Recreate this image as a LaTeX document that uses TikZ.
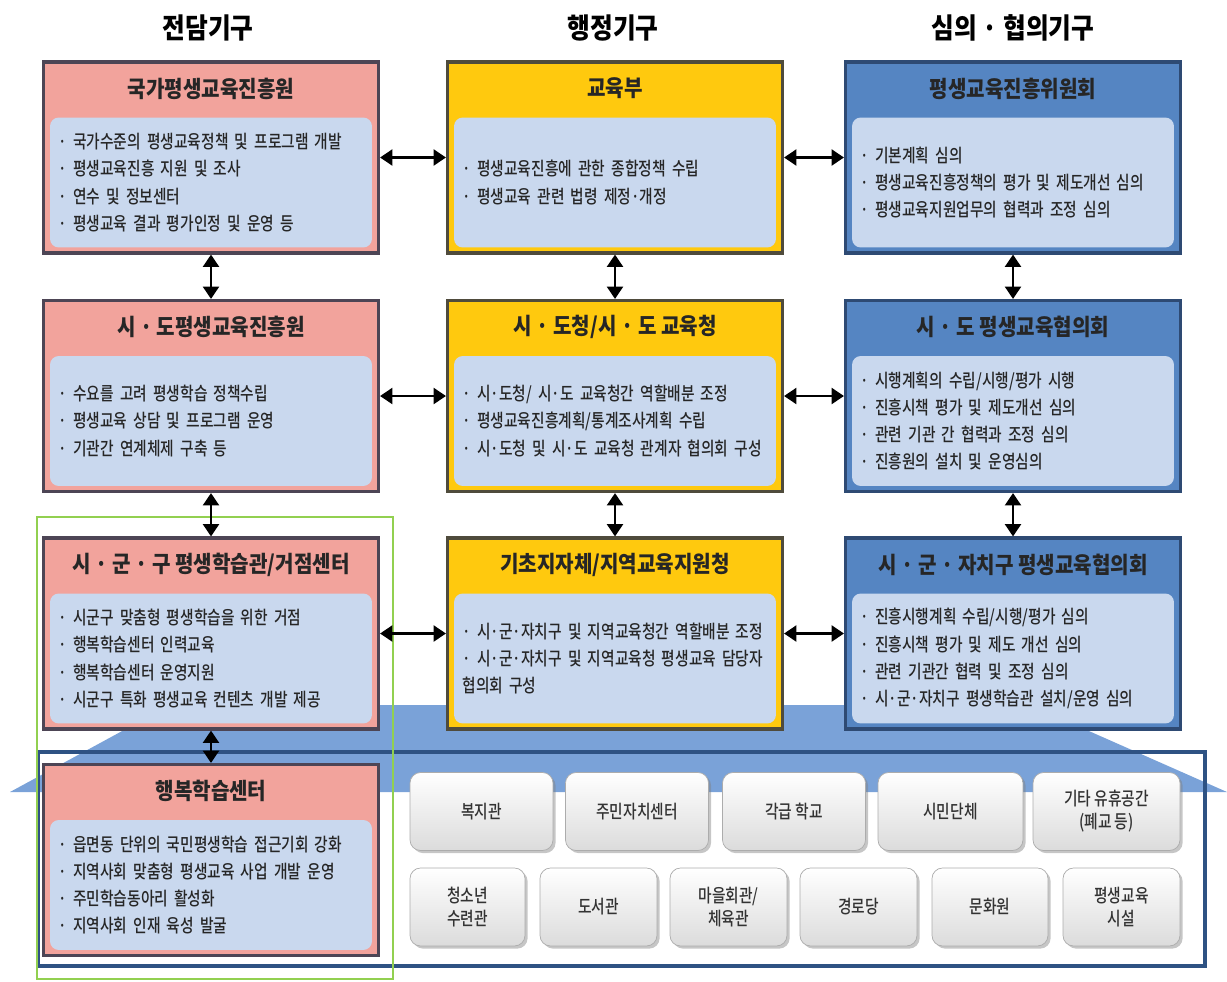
\documentclass[tikz,border=0pt]{standalone}
\usepackage{fontspec}
\setmainfont[FakeStretch=0.8]{Noto Sans CJK KR}
\newfontfamily\headfont[FakeStretch=0.88]{Noto Sans CJK KR}
\newfontfamily\bodyfont[FakeStretch=0.8]{Noto Sans CJK KR Medium}
\usetikzlibrary{arrows.meta,shadows}

\definecolor{pinkhead}{HTML}{F2A39C}
\definecolor{pinkframe}{HTML}{4D4555}
\definecolor{goldhead}{HTML}{FFC90E}
\definecolor{goldframe}{HTML}{4F4B3C}
\definecolor{bluehead}{HTML}{5585C2}
\definecolor{blueframe}{HTML}{2E4A73}
\definecolor{bodyblue}{HTML}{C9D8EE}
\definecolor{greenline}{HTML}{92D050}
\definecolor{bandblue}{HTML}{7AA2D8}
\definecolor{bottomframe}{HTML}{2E5283}

\begin{document}
\begin{tikzpicture}
[x=0.02cm,y=-0.02cm,
 framedecorate/.style={draw=#1frame,fill=#1head,line width=1.8pt,minimum width=6.7cm,minimum height=3.82cm,inner sep=0pt},
 titledecorate/.style={font=\headfont\fontsize{13}{15}\selectfont\bfseries,text=black!85,inner sep=0pt},
 bodydecorate/.style={fill=bodyblue,rounded corners=5pt,minimum width=6.44cm,minimum height=2.6cm,text width=6.1cm,inner xsep=0.17cm,inner ysep=0pt,align=left,font=\bodyfont\fontsize{10.5}{15.5}\selectfont,text=black!85},
 placedecorate/.style={draw=gray!65,top color=white,bottom color=gray!28,rounded corners=6pt,minimum height=1.56cm,align=center,inner sep=1pt,font=\bodyfont\fontsize{10.5}{13}\selectfont,text=black!80,drop shadow={shadow xshift=1.5pt,shadow yshift=-1.5pt,opacity=0.45}},
 headerdecorate/.style={font=\headfont\fontsize{16}{19}\selectfont\bfseries,inner sep=0pt},
 linedecorate/.style={{Triangle[length=7pt,width=9pt]}-{Triangle[length=7pt,width=9pt]},line width=1.5pt}]
\useasboundingbox (0,0) rectangle (1227,981);
%% column headers
\node (hdleft) at (208,28) [headerdecorate] {전담기구};
\node (hdmid) at (613,28) [headerdecorate] {행정기구};
\node (hdright) at (1013,28) [headerdecorate] {심의 · 협의기구};
%% background band and frames
\fill[bandblue] (170,705) -- (1030,705) -- (1227,792) -- (10,792) -- cycle;
\draw[bottomframe,line width=2pt] (38,752) rectangle (1205,966);
\draw[greenline,line width=1.2pt] (37,517) rectangle (393,979);
%% organisation boxes
\foreach \nodename/\x/\y/\hue/\title/\body in {
  nile/211/157.5/pink/{국가평생교육진흥원}/{· 국가수준의 평생교육정책 및 프로그램 개발\\ · 평생교육진흥 지원 및 조사\\ · 연수 및 정보센터\\ · 평생교육 결과 평가인정 및 운영 등},
  moe/615/157.5/gold/{교육부}/{· 평생교육진흥에 관한 종합정책 수립\\ · 평생교육 관련 법령 제정·개정},
  lcom/1013/157.5/blue/{평생교육진흥위원회}/{· 기본계획 심의\\ · 평생교육진흥정책의 평가 및 제도개선 심의\\ · 평생교육지원업무의 협력과 조정 심의},
  sidoinst/211/396/pink/{시 · 도평생교육진흥원}/{· 수요를 고려 평생학습 정책수립\\ · 평생교육 상담 및 프로그램 운영\\ · 기관간 연계체제 구축 등},
  sidooffice/615/396/gold/{시 · 도청/시 · 도 교육청}/{· 시·도청/ 시·도 교육청간 역할배분 조정\\ · 평생교육진흥계획/통계조사계획 수립\\ · 시·도청 및 시·도 교육청 관계자 협의회 구성},
  sidocouncil/1013/396/blue/{시 · 도 평생교육협의회}/{· 시행계획의 수립/시행/평가 시행\\ · 진흥시책 평가 및 제도개선 심의\\ · 관련 기관 간 협력과 조정 심의\\ · 진흥원의 설치 및 운영심의},
  sggcenter/211/633.5/pink/{시 · 군 · 구 평생학습관/거점센터}/{· 시군구 맞춤형 평생학습을 위한 거점\\ · 행복학습센터 인력교육\\ · 행복학습센터 운영지원\\ · 시군구 특화 평생교육 컨텐츠 개발 제공},
  localgov/615/633.5/gold/{기초지자체/지역교육지원청}/{· 시·군·자치구 및 지역교육청간 역할배분 조정\\ · 시·군·자치구 및 지역교육청 평생교육 담당자\\ 협의회 구성},
  sggcouncil/1013/633.5/blue/{시 · 군 · 자치구 평생교육협의회}/{· 진흥시행계획 수립/시행/평가 심의\\ · 진흥시책 평가 및 제도 개선 심의\\ · 관련 기관간 협력 및 조정 심의\\ · 시·군·자치구 평생학습관 설치/운영 심의},
  happy/211/860/pink/{행복학습센터}/{· 읍면동 단위의 국민평생학습 접근기회 강화\\ · 지역사회 맞춤형 평생교육 사업 개발 운영\\ · 주민학습동아리 활성화\\ · 지역사회 인재 육성 발굴}}
{
  \node (\nodename) at (\x,\y) [framedecorate=\hue] {};
  \node (\nodename-t) at ([yshift=-0.56cm]\nodename.north) [titledecorate] {\title};
  \node (\nodename-b) at ([yshift=-0.5cm]\nodename.center) [bodydecorate] {\body};
}
%% places
\foreach \nodename/\x/\y/\w/\label in {
  welfare/481.5/811.5/2.86/복지관, residents/637/811.5/2.86/주민자치센터,
  school/794/811.5/2.86/각급 학교, civic/950.5/811.5/2.9/시민단체,
  idle/1106.5/811.5/2.94/{기타 유휴공간\\(폐교 등)},
  youth/467.5/907/2.3/{청소년\\수련관}, library/598.5/907/2.34/도서관,
  village/728.5/907/2.34/{마을회관/\\체육관}, seniors/858.5/907/2.34/경로당,
  culture/990/907/2.32/문화원, lifelong/1121.5/907/2.34/{평생교육\\시설}}
{
  \node (\nodename) at (\x,\y) [placedecorate,minimum width=\w cm] {\label};
}
%% connections
\path
\foreach \startnode/\endnode in {nile/moe, moe/lcom, sidoinst/sidooffice,
  sidooffice/sidocouncil, sggcenter/localgov, localgov/sggcouncil,
  nile/sidoinst, sidoinst/sggcenter, sggcenter/happy, moe/sidooffice,
  sidooffice/localgov, lcom/sidocouncil, sidocouncil/sggcouncil}
{
  (\startnode) edge[linedecorate] (\endnode)
};
\end{tikzpicture}
\end{document}
